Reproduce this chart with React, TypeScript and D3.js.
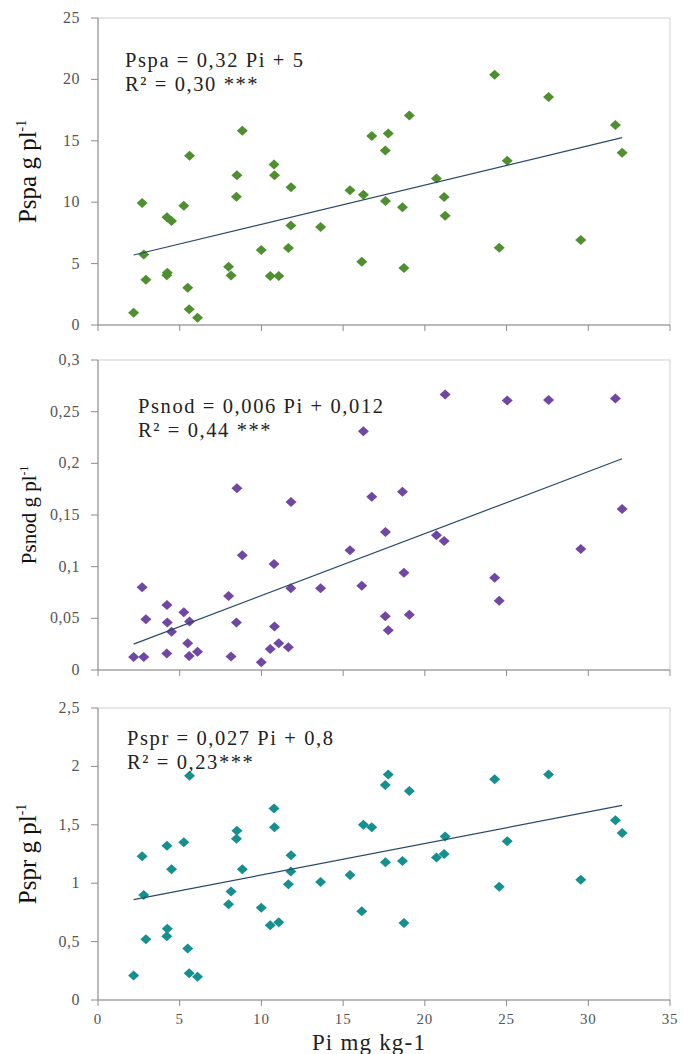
import React from "react";
import * as d3 from "d3";

// Shared Pi values (mg kg-1)
const pi = [2.18, 2.7, 2.8, 2.93, 4.22, 4.24, 4.21, 4.5, 5.25, 5.6, 5.49, 5.58, 6.09, 7.99, 8.14, 8.5, 8.47, 8.83, 9.99, 10.54, 11.06, 10.77, 10.8, 11.81, 11.8, 11.65, 13.62, 15.42, 16.14, 16.24, 16.75, 17.59, 17.58, 17.76, 19.05, 18.63, 18.72, 20.71, 21.18, 21.24, 24.27, 24.55, 25.04, 27.57, 29.54, 31.66, 32.07];

const pspa = [1.0, 9.93, 5.75, 3.69, 8.77, 4.25, 4.05, 8.47, 9.72, 13.79, 3.04, 1.28, 0.6, 4.75, 4.04, 12.19, 10.45, 15.82, 6.1, 3.99, 3.99, 13.08, 12.19, 11.21, 8.11, 6.27, 7.98, 10.97, 5.16, 10.61, 15.39, 10.1, 14.2, 15.6, 17.07, 9.58, 4.64, 11.92, 10.42, 8.9, 20.38, 6.3, 13.38, 18.57, 6.92, 16.29, 14.03];

const psnod = [0.0126, 0.08, 0.0126, 0.049, 0.063, 0.046, 0.016, 0.037, 0.056, 0.047, 0.026, 0.0135, 0.0177, 0.0716, 0.013, 0.176, 0.046, 0.111, 0.0074, 0.0203, 0.0258, 0.1025, 0.042, 0.1625, 0.079, 0.022, 0.079, 0.116, 0.0815, 0.231, 0.1676, 0.1335, 0.052, 0.0384, 0.0535, 0.1725, 0.094, 0.1305, 0.1248, 0.2666, 0.0893, 0.067, 0.2608, 0.2614, 0.117, 0.2627, 0.1557];

const pspr = [0.21, 1.23, 0.9, 0.52, 1.32, 0.61, 0.545, 1.12, 1.35, 1.92, 0.44, 0.23, 0.2, 0.82, 0.93, 1.45, 1.38, 1.12, 0.79, 0.64, 0.665, 1.64, 1.48, 1.24, 1.1, 0.99, 1.01, 1.07, 0.76, 1.5, 1.48, 1.18, 1.84, 1.93, 1.79, 1.19, 0.66, 1.22, 1.25, 1.4, 1.89, 0.97, 1.36, 1.93, 1.03, 1.54, 1.43];

const xTicks = [0, 5, 10, 15, 20, 25, 30, 35];
const yTicksPspa = [0, 5, 10, 15, 20, 25];
const yTicksPsnod = [0, 0.05, 0.1, 0.15, 0.2, 0.25, 0.3];
const yTicksPspr = [0, 0.5, 1, 1.5, 2, 2.5];

const eqPspa = ["Pspa = 0,32 Pi + 5", "R² = 0,30 ***"];
const eqPsnod = ["Psnod = 0,006 Pi + 0,012", "R² = 0,44 ***"];
const eqPspr = ["Pspr = 0,027 Pi + 0,8", "R² = 0,23***"];

const fitPspa = [0.32, 5];
const fitPsnod = [0.006, 0.012];
const fitPspr = [0.027, 0.8];

const FONT = "'Liberation Serif', 'Times New Roman', serif";
const fmt = (v: number) => String(v).replace(".", ",");

const X0 = 98;
const X1 = 670;

type PanelProps = {
  top: number;
  bottom: number;
  values: number[];
  yMax: number;
  yTicks: number[];
  color: string;
  eq: string[];
  eqX: number;
  eqY: number[];
  fit: number[];
  title: string;
  titleSize: number;
  showXLabels: boolean;
};

function diamond(cx: number, cy: number, w = 5.5, h = 5) {
  return `M${cx},${cy - h}L${cx + w},${cy}L${cx},${cy + h}L${cx - w},${cy}Z`;
}

function Panel(p: PanelProps) {
  const x = d3.scaleLinear().domain([0, 35]).range([X0, X1]);
  const y = d3.scaleLinear().domain([0, p.yMax]).range([p.bottom, p.top]);
  const xMin = d3.min(pi) as number;
  const xMax = d3.max(pi) as number;
  const line = d3.line<number>()
    .x((d) => x(d))
    .y((d) => y(p.fit[0] * d + p.fit[1]));
  const cy = (p.top + p.bottom) / 2;
  return (
    <g>
      <rect x={X0} y={p.top} width={X1 - X0} height={p.bottom - p.top} fill="white" stroke="#d0d0d0" strokeWidth={1} />
      <line x1={X0} x2={X0} y1={p.top} y2={p.bottom} stroke="#8c8c8c" />
      <line x1={X0} x2={X1} y1={p.bottom} y2={p.bottom} stroke="#8c8c8c" />
      {p.yTicks.map((t) => (
        <g key={"y" + t}>
          <line x1={X0 - 7} x2={X0} y1={y(t)} y2={y(t)} stroke="#8c8c8c" />
          <text x={80} y={y(t) + 5} textAnchor="end" fontFamily={FONT} fontSize={16} fill="#555" letterSpacing={0.5}>
            {fmt(t)}
          </text>
        </g>
      ))}
      {xTicks.map((t) => (
        <g key={"x" + t}>
          <line x1={x(t)} x2={x(t)} y1={p.bottom} y2={p.bottom + 6} stroke="#8c8c8c" />
          {p.showXLabels && (
            <text x={x(t)} y={p.bottom + 24} textAnchor="middle" fontFamily={FONT} fontSize={15} fill="#555" letterSpacing={0.8}>
              {fmt(t)}
            </text>
          )}
        </g>
      ))}
      {p.values.map((v, i) => (
        <path key={i} d={diamond(x(pi[i]), y(v))} fill={p.color} />
      ))}
      <path d={line([xMin, xMax]) || ""} fill="none" stroke="#2a4a68" strokeWidth={1.2} />
      {p.eq.map((s, i) => (
        <text key={i} x={p.eqX} y={p.eqY[i]} fontFamily={FONT} fontSize={20.5} fill="#222" letterSpacing={1.6}>
          {s}
        </text>
      ))}
      <text transform={`translate(36,${cy}) rotate(-90)`} textAnchor="middle" fontFamily={FONT} fontSize={p.titleSize} fill="#111">
        {p.title} g pl
        <tspan fontSize={p.titleSize * 0.55} dy={-p.titleSize * 0.4}>-1</tspan>
      </text>
    </g>
  );
}

export default function App() {
  return (
    <svg width={684} height={1054} style={{ position: "absolute", left: 0, top: 0, background: "white" }}>
      <rect width={684} height={1054} fill="white" />
      <Panel top={18} bottom={325} values={pspa} yMax={25} yTicks={yTicksPspa} color="#4f8f30" eq={eqPspa} eqX={125} eqY={[67, 91]} fit={fitPspa} title="Pspa" titleSize={25} showXLabels={false} />
      <Panel top={360} bottom={670} values={psnod} yMax={0.3} yTicks={yTicksPsnod} color="#7047a2" eq={eqPsnod} eqX={138} eqY={[413, 437]} fit={fitPsnod} title="Psnod" titleSize={21} showXLabels={false} />
      <Panel top={708} bottom={1000} values={pspr} yMax={2.5} yTicks={yTicksPspr} color="#168f8f" eq={eqPspr} eqX={127} eqY={[745, 769]} fit={fitPspr} title="Pspr" titleSize={25} showXLabels={true} />
      <text x={369} y={1050} textAnchor="middle" fontFamily={FONT} fontSize={23} fill="#222" letterSpacing={1.2}>
        Pi mg kg-1
      </text>
    </svg>
  );
}
